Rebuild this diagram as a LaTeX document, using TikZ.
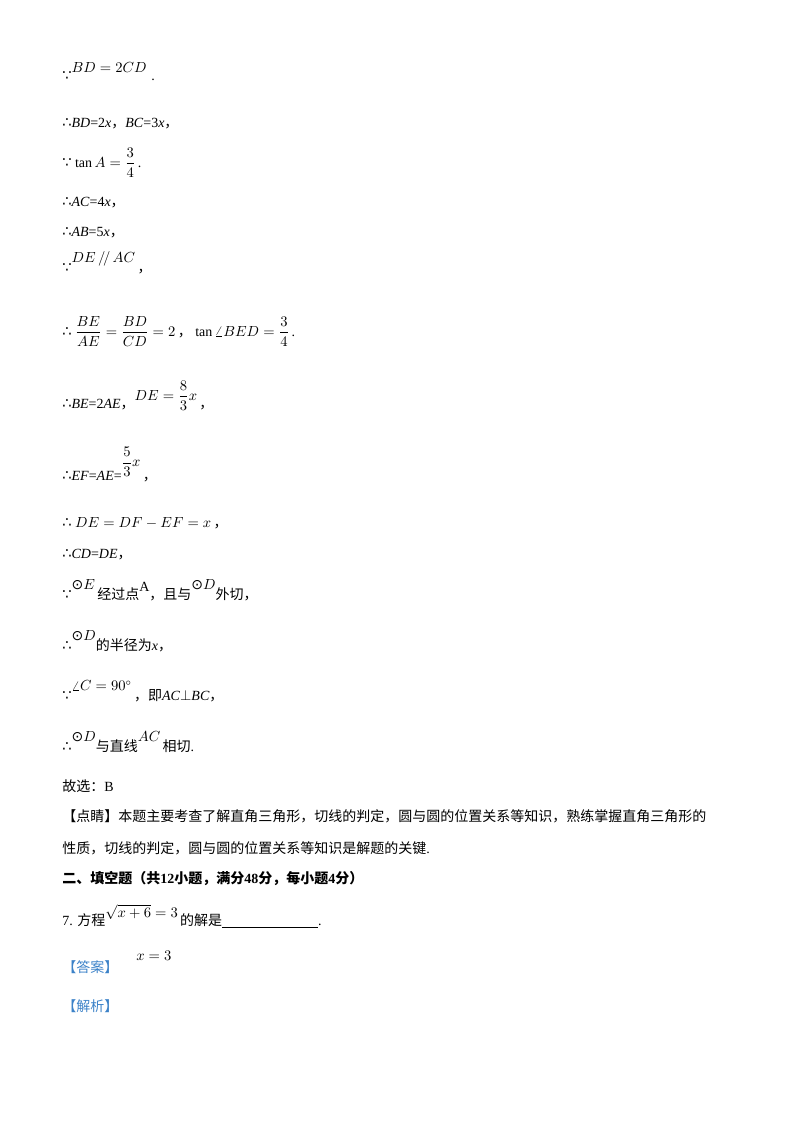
\documentclass[tikz,border=0pt]{standalone}
\usepackage{amsmath}
\usepackage{fontspec}
\setmainfont{Liberation Serif}
\newfontfamily\cjk{Noto Sans CJK SC}
\newfontfamily\sym{DejaVu Sans}
\definecolor{ansblue}{RGB}{60,130,200}
\begin{document}
\begin{tikzpicture}[x=0.75pt,y=-0.75pt,t/.style={anchor=base west,inner sep=0pt,font=\fontsize{10.5}{12}\selectfont}]
\useasboundingbox (0,0) rectangle (800,1132);
\newcommand\bc{{\sym\fontsize{11}{12}\selectfont ∵}}
\newcommand\so{{\sym\fontsize{11}{12}\selectfont ∴}}
\newcommand\od{{\sym ⊙}}
\newcommand\cm{{\cjk ，}}
\node[t] (l1) at (62,80) {\bc\raisebox{6pt}{$BD=2CD$}\,\,.};
\node[t] (l2) at (62,127) {\so\textit{BD}=2\textit{x}\cm\textit{BC}=3\textit{x}\cm};
\node[t] (l3) at (62,167) {\bc\ $\tan A=\dfrac{3}{4}$\,.};
\node[t] (l4) at (62,206) {\so\textit{AC}=4\textit{x}\cm};
\node[t] (l5) at (62,236) {\so\textit{AB}=5\textit{x}\cm};
\node[t] (l6) at (62,272) {\bc\raisebox{7pt}{$DE\,/\!/\,AC$}\,\cm};
\node[t] (l7) at (62,336) {\so\ $\dfrac{BE}{AE}=\dfrac{BD}{CD}=2$\,\cm\ $\tan\angle BED=\dfrac{3}{4}$\,.};
\node[t] (l8) at (62,408) {\so\textit{BE}=2\textit{AE}\cm\raisebox{6pt}{$DE=\dfrac{8}{3}x$}\,\cm};
\node[t] (l9) at (62,480) {\so\textit{EF}=\textit{AE}=\raisebox{10pt}{$\dfrac{5}{3}x$}\,\cm};
\node[t] (l10) at (62,527) {\so\ $DE=DF-EF=x$\,\cm};
\node[t] (l11) at (62,558) {\so\textit{CD}=\textit{DE}\cm};
\node[t] (l12) at (62,599) {\bc\raisebox{7pt}{\od$E$}\,{\cjk 经过点}\raisebox{6pt}{A}{\cjk ，且与}\raisebox{7pt}{\od$D$}{\cjk 外切，}};
\node[t] (l13) at (62,650) {\so\raisebox{7pt}{\od$D$}{\cjk 的半径为}\textit{x}\cm};
\node[t] (l14) at (62,700) {\bc\raisebox{7pt}{$\angle C=90^\circ$}\,{\cjk ，即}\textit{AC}$\perp$\textit{BC}\cm};
\node[t] (l15) at (62,751) {\so\raisebox{7pt}{\od$D$}{\cjk 与直线}\raisebox{7pt}{$AC$}\,{\cjk 相切}.};
\node[t] (l16) at (62,791) {{\cjk 故选：}B};
\node[t] (l17) at (62,821) {\cjk 【点睛】本题主要考查了解直角三角形，切线的判定，圆与圆的位置关系等知识，熟练掌握直角三角形的};
\node[t] (l18) at (62,853) {{\cjk 性质，切线的判定，圆与圆的位置关系等知识是解题的关键}.};
\node[t] (l19) at (62,883) {\bfseries{\cjk\bfseries 二、填空题（共}12{\cjk\bfseries 小题，满分}48{\cjk\bfseries 分，每小题}4{\cjk\bfseries 分）}};
\node[t] (l20) at (62,925) {7. {\cjk 方程}\raisebox{6pt}{$\sqrt{x+6}=3$}\,{\cjk 的解是}\underline{\hspace{72pt}}.};
\node[t,text=ansblue] (l21) at (62,972) {\cjk 【答案】};
\node[t] (l21b) at (136,960) {$x=3$};
\node[t,text=ansblue] (l22) at (62,1011) {\cjk 【解析】};
\end{tikzpicture}
\end{document}
